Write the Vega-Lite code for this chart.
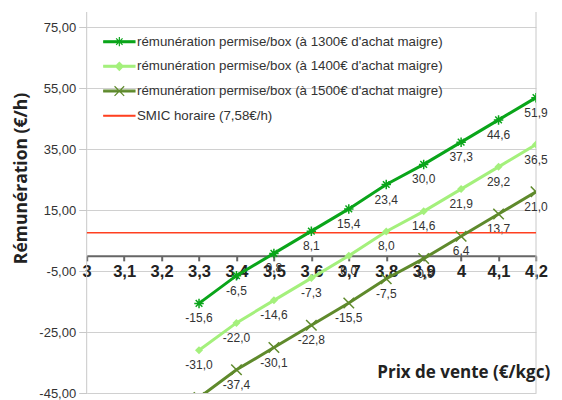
{
  "$schema": "https://vega.github.io/schema/vega-lite/v6.json",
  "width": 449.3,
  "height": 381,
  "autosize": "none",
  "padding": {"left": 86.7, "top": 12, "right": 26, "bottom": 7},
  "background": "white",
  "config": {
    "view": {"stroke": null},
    "axisX": {"labelOverlap": false, "labelFlush": false},
    "locale": {"number": {"decimal": ",", "thousands": " ", "grouping": [3], "currency": ["", " €"], "minus": "-"}}
  },
  "datasets": {
    "frame": [{"prix": 3}, {"prix": 4.2}]
  },
  "data": {
    "values": [
      {"prix": 3.3, "serie": "rémunération permise/box (à 1300€ d'achat maigre)", "val": -15.6},
      {"prix": 3.4, "serie": "rémunération permise/box (à 1300€ d'achat maigre)", "val": -6.5},
      {"prix": 3.5, "serie": "rémunération permise/box (à 1300€ d'achat maigre)", "val": 0.8},
      {"prix": 3.6, "serie": "rémunération permise/box (à 1300€ d'achat maigre)", "val": 8.1},
      {"prix": 3.7, "serie": "rémunération permise/box (à 1300€ d'achat maigre)", "val": 15.4},
      {"prix": 3.8, "serie": "rémunération permise/box (à 1300€ d'achat maigre)", "val": 23.4},
      {"prix": 3.9, "serie": "rémunération permise/box (à 1300€ d'achat maigre)", "val": 30.0},
      {"prix": 4.0, "serie": "rémunération permise/box (à 1300€ d'achat maigre)", "val": 37.3},
      {"prix": 4.1, "serie": "rémunération permise/box (à 1300€ d'achat maigre)", "val": 44.6},
      {"prix": 4.2, "serie": "rémunération permise/box (à 1300€ d'achat maigre)", "val": 51.9},
      {"prix": 3.3, "serie": "rémunération permise/box (à 1400€ d'achat maigre)", "val": -31.0},
      {"prix": 3.4, "serie": "rémunération permise/box (à 1400€ d'achat maigre)", "val": -22.0},
      {"prix": 3.5, "serie": "rémunération permise/box (à 1400€ d'achat maigre)", "val": -14.6},
      {"prix": 3.6, "serie": "rémunération permise/box (à 1400€ d'achat maigre)", "val": -7.3},
      {"prix": 3.7, "serie": "rémunération permise/box (à 1400€ d'achat maigre)", "val": 0.0},
      {"prix": 3.8, "serie": "rémunération permise/box (à 1400€ d'achat maigre)", "val": 8.0},
      {"prix": 3.9, "serie": "rémunération permise/box (à 1400€ d'achat maigre)", "val": 14.6},
      {"prix": 4.0, "serie": "rémunération permise/box (à 1400€ d'achat maigre)", "val": 21.9},
      {"prix": 4.1, "serie": "rémunération permise/box (à 1400€ d'achat maigre)", "val": 29.2},
      {"prix": 4.2, "serie": "rémunération permise/box (à 1400€ d'achat maigre)", "val": 36.5},
      {"prix": 3.3, "serie": "rémunération permise/box (à 1500€ d'achat maigre)", "val": -46.5},
      {"prix": 3.4, "serie": "rémunération permise/box (à 1500€ d'achat maigre)", "val": -37.4},
      {"prix": 3.5, "serie": "rémunération permise/box (à 1500€ d'achat maigre)", "val": -30.1},
      {"prix": 3.6, "serie": "rémunération permise/box (à 1500€ d'achat maigre)", "val": -22.8},
      {"prix": 3.7, "serie": "rémunération permise/box (à 1500€ d'achat maigre)", "val": -15.5},
      {"prix": 3.8, "serie": "rémunération permise/box (à 1500€ d'achat maigre)", "val": -7.5},
      {"prix": 3.9, "serie": "rémunération permise/box (à 1500€ d'achat maigre)", "val": -0.9},
      {"prix": 4.0, "serie": "rémunération permise/box (à 1500€ d'achat maigre)", "val": 6.4},
      {"prix": 4.1, "serie": "rémunération permise/box (à 1500€ d'achat maigre)", "val": 13.7},
      {"prix": 4.2, "serie": "rémunération permise/box (à 1500€ d'achat maigre)", "val": 21.0},
      {"prix": 3.0, "serie": "SMIC horaire (7,58€/h)", "val": 7.58},
      {"prix": 4.2, "serie": "SMIC horaire (7,58€/h)", "val": 7.58}
    ]
  },
  "layer": [
    {
      "data": {"name": "frame"},
      "mark": {"type": "rule", "color": "#c8c8c8", "strokeWidth": 1},
      "encoding": {
        "x": {
          "field": "prix", "type": "quantitative",
          "scale": {"domain": [3, 4.2], "nice": false, "zero": false},
          "axis": {
            "values": [3, 3.1, 3.2, 3.3, 3.4, 3.5, 3.6, 3.7, 3.8, 3.9, 4, 4.1, 4.2],
            "tickCount": 40,
            "format": ".1~f",
            "offset": -137.16,
            "grid": false,
            "domainColor": "#666666", "domainWidth": 2,
            "tickColor": "#666666", "tickWidth": 2, "tickSize": 5,
            "labelFont": "Liberation Sans", "labelFontWeight": "bold", "labelFontSize": 16.5, "labelColor": "#222222",
            "labelPadding": 3, "labelFlush": false, "labelOverlap": false,
            "title": "Prix de vente  (€/kgc)",
            "titleFont": "Open Sans", "titleFontWeight": "bold", "titleFontSize": 17, "titleColor": "#222222",
            "titleX": 463, "titleY": 117, "titleAlign": "right", "titleBaseline": "middle", "titleAnchor": null
          }
        }
      }
    },
    {
      "transform": [{"filter": "indexof(datum.serie, 'SMIC') < 0 && datum.val >= -45"}],
      "mark": {"type": "text", "dy": 15, "fontSize": 12, "font": "Liberation Sans", "color": "#333333"},
      "encoding": {
        "x": {"field": "prix", "type": "quantitative"},
        "y": {"field": "val", "type": "quantitative"},
        "text": {"field": "val", "type": "quantitative", "format": ".1f"}
      }
    },
    {
      "transform": [{"filter": "indexof(datum.serie, 'SMIC') >= 0"}],
      "mark": {"type": "line", "color": "#ff4020", "strokeWidth": 1.6, "clip": true},
      "encoding": {
        "x": {"field": "prix", "type": "quantitative"},
        "y": {"field": "val", "type": "quantitative"}
      }
    },
    {
      "transform": [{"filter": "indexof(datum.serie, 'SMIC') < 0"}],
      "mark": {"type": "line", "strokeWidth": 3, "clip": true},
      "encoding": {
        "x": {
          "field": "prix", "type": "quantitative",
          "scale": {"domain": [3, 4.2], "nice": false, "zero": false},
          "axis": {
            "values": [3, 3.1, 3.2, 3.3, 3.4, 3.5, 3.6, 3.7, 3.8, 3.9, 4, 4.1, 4.2],
            "tickCount": 40,
            "format": ".1~f",
            "offset": -137.16,
            "grid": false,
            "domainColor": "#666666", "domainWidth": 2,
            "tickColor": "#666666", "tickWidth": 2, "tickSize": 5,
            "labelFont": "Liberation Sans", "labelFontWeight": "bold", "labelFontSize": 16.5, "labelColor": "#222222",
            "labelPadding": 3, "labelFlush": false, "labelOverlap": false,
            "title": "Prix de vente  (€/kgc)",
            "titleFont": "Open Sans", "titleFontWeight": "bold", "titleFontSize": 17, "titleColor": "#222222",
            "titleX": 463, "titleY": 117, "titleAlign": "right", "titleBaseline": "middle", "titleAnchor": null
          }
        },
        "y": {
          "field": "val", "type": "quantitative",
          "scale": {"domain": [-45, 80], "nice": false, "zero": false},
          "axis": {
            "values": [-45, -25, -5, 15, 35, 55, 75],
            "tickCount": 20,
            "format": ".2f",
            "grid": true, "gridColor": "#d0d0d0", "gridWidth": 1,
            "domain": false,
            "tickColor": "#c8c8c8", "tickSize": 8,
            "labelFont": "Liberation Sans", "labelFontSize": 13, "labelColor": "#333333", "labelPadding": 3,
            "title": "Rémunération (€/h)",
            "titleFont": "Open Sans", "titleFontWeight": "bold", "titleFontSize": 17.5, "titleColor": "#222222",
            "titleAngle": -90, "titleX": -65, "titleY": 166, "titleAlign": "center", "titleBaseline": "middle", "titleAnchor": null
          }
        },
        "color": {
          "field": "serie", "type": "nominal", "legend": null,
          "scale": {
            "domain": ["rémunération permise/box (à 1300€ d'achat maigre)", "rémunération permise/box (à 1400€ d'achat maigre)", "rémunération permise/box (à 1500€ d'achat maigre)"],
            "range": ["#0aa51a", "#a4f07c", "#5f8a2c"]
          }
        }
      }
    },
    {
      "transform": [{"filter": "indexof(datum.serie, '1300') >= 0"}],
      "mark": {"type": "point", "filled": false, "color": "#0aa51a", "strokeWidth": 1.5, "size": 90, "opacity": 1, "clip": true,
               "shape": "M-1,0L1,0M0,-1L0,1M-0.7,-0.7L0.7,0.7M-0.7,0.7L0.7,-0.7"},
      "encoding": {
        "x": {"field": "prix", "type": "quantitative"},
        "y": {"field": "val", "type": "quantitative"}
      }
    },
    {
      "transform": [{"filter": "indexof(datum.serie, '1400') >= 0"}],
      "mark": {"type": "point", "filled": true, "color": "#a4f07c", "size": 64, "opacity": 1, "clip": true,
               "shape": "M-1,0L0,-1L1,0L0,1Z"},
      "encoding": {
        "x": {"field": "prix", "type": "quantitative"},
        "y": {"field": "val", "type": "quantitative"}
      }
    },
    {
      "transform": [{"filter": "indexof(datum.serie, '1500') >= 0"}],
      "mark": {"type": "point", "filled": false, "color": "#5f8a2c", "strokeWidth": 1.5, "size": 110, "opacity": 1, "clip": true,
               "shape": "M-1,-1L1,1M-1,1L1,-1"},
      "encoding": {
        "x": {"field": "prix", "type": "quantitative"},
        "y": {"field": "val", "type": "quantitative"}
      }
    },
    {
      "mark": {"type": "point", "filled": true, "opacity": 0, "strokeWidth": 1.2},
      "encoding": {
        "x": {"field": "prix", "type": "quantitative"},
        "y": {"field": "val", "type": "quantitative"},
        "fill": {
          "field": "serie", "type": "nominal", "title": null,
          "scale": {
            "domain": ["rémunération permise/box (à 1300€ d'achat maigre)", "rémunération permise/box (à 1400€ d'achat maigre)", "rémunération permise/box (à 1500€ d'achat maigre)", "SMIC horaire (7,58€/h)"],
            "range": ["#0aa51a", "#a4f07c", "#5f8a2c", "#ff4020"]
          }
        },
        "stroke": {
          "field": "serie", "type": "nominal", "title": null,
          "scale": {
            "domain": ["rémunération permise/box (à 1300€ d'achat maigre)", "rémunération permise/box (à 1400€ d'achat maigre)", "rémunération permise/box (à 1500€ d'achat maigre)", "SMIC horaire (7,58€/h)"],
            "range": ["#0aa51a", "#a4f07c", "#5f8a2c", "#ff4020"]
          }
        },
        "shape": {
          "field": "serie", "type": "nominal", "title": null,
          "scale": {
            "domain": ["rémunération permise/box (à 1300€ d'achat maigre)", "rémunération permise/box (à 1400€ d'achat maigre)", "rémunération permise/box (à 1500€ d'achat maigre)", "SMIC horaire (7,58€/h)"],
            "range": [
              "M-3.9,-0.22L3.9,-0.22L3.9,0.22L-3.9,0.22ZM0,-1.15L0,1.15M-0.8,-0.8L0.8,0.8M-0.8,0.8L0.8,-0.8",
              "M-3.9,-0.22L3.9,-0.22L3.9,0.22L-3.9,0.22ZM-1,0L0,-1L1,0L0,1Z",
              "M-3.9,-0.22L3.9,-0.22L3.9,0.22L-3.9,0.22ZM-1.2,-1.2L1.2,1.2M-1.2,1.2L1.2,-1.2",
              "M-3.9,-0.1L3.9,-0.1L3.9,0.1L-3.9,0.1Z"
            ]
          },
          "legend": {
            "orient": "none", "legendX": 26, "legendY": 23, "padding": 0,
            "symbolSize": 64, "symbolOpacity": 1, "symbolStrokeWidth": 1.2,
            "labelFont": "Liberation Sans", "labelFontSize": 13.3, "labelColor": "#333333", "labelOffset": 11,
            "rowPadding": 9.7, "labelLimit": 400
          }
        }
      }
    }
  ]
}
